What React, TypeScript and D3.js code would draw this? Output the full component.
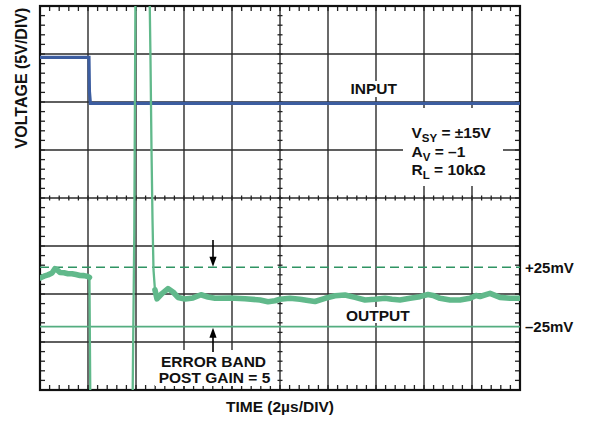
import React from 'react';
import * as d3 from 'd3';

// ---- data ----
const timeDomain = [0, 20]; // µs, 2µs/div
const voltDomain = [-30, 10]; // V, 5V/div (input channel)
const outDomain = [-25, 25]; // mV (error band)

const inputTime = [0, 2.04, 2.06, 2.1, 20];
const inputVolts = [4.64, 4.64, 1.1, -0.14, -0.14];

const outputTime = [
  0, 0.167, 0.333, 0.5, 0.625, 0.708, 0.833, 1.0, 1.167, 1.333, 1.5, 1.667, 1.833, 2.0, 2.06,
  2.1, 3.854, 3.883, 3.929, 3.979, 4.563, 4.604, 4.646, 4.688, 4.729, 4.79, 4.875,
  5.083, 5.333, 5.542, 5.75, 6.042, 6.375, 6.708, 7.0, 7.292, 7.917, 8.542, 9.167, 9.5,
  9.792, 10.0, 10.417, 10.833, 11.167, 11.458, 11.875, 12.292, 12.708, 13.125, 13.542,
  13.958, 14.375, 14.667, 15.0, 15.417, 15.833, 16.167, 16.375, 16.667, 17.083, 17.5,
  17.917, 18.167, 18.333, 18.75, 19.167, 19.583, 20.0,
];
const outputMv = [
  16.0, 17.5, 18.6, 20.2, 23.8, 23.0, 20.6, 20.4, 19.6, 19.6, 18.9, 18.1, 18.0, 17.2, 16.5,
  -95, -95, -36, 54, 260, 260, 200, 124, 65, 23, 6, -1.5,
  2.9, 7.0, 4.2, -0.4, -1.7, -0.8, 1.9, 0, -1.1, -0.8, -1.5, -2.5, -4.0,
  -3.1, -1.9, -1.1, -1.9, -2.9, -3.8, -1.1, 1.1, 1.7, -0.3, -2.5,
  -1.9, -1.1, -1.9, -2.5, -1.1, 0.3, 2.1, 1.3, -1.1, -2.5, -2.5,
  -1.1, 1.3, 0.4, 3.1, -0.3, -1.1, -1.1,
];

const bandLimits = [25, -25];
const bandLabels = ['+25mV', '\u201325mV'];

// ---- layout ----
const W = 592, H = 424;
const L = 40, R = 520, T = 6, B = 390;
const FONT = '"Liberation Sans", Arial, Helvetica, sans-serif';
const TRACE = '#61b98b';

export default function App() {
  const x = d3.scaleLinear().domain(timeDomain).range([L, R]);
  const yIn = d3.scaleLinear().domain(voltDomain).range([B, T]);
  const yOut = d3.scaleLinear().domain(outDomain).range([326.7, 267.3]);

  const majorX = d3.range(timeDomain[0], timeDomain[1] + 0.001, 2);
  const majorY = d3.range(voltDomain[0], voltDomain[1] + 0.001, 5);
  const minorX = d3.range(timeDomain[0], timeDomain[1] + 0.001, 0.4);
  const minorY = d3.range(voltDomain[0], voltDomain[1] + 0.001, 1);
  const cx = x(10);
  const cy = yIn(-10);

  const inLine = d3.line<number>().x((_, i) => x(inputTime[i])).y((v) => yIn(v));
  const outPts: [number, number][] = outputTime.map((t, i) => [x(t), yOut(outputMv[i])]);
  const outLine = d3.line<[number, number]>();
  const pre = outPts.filter((_, i) => outputTime[i] <= 2.06);
  const settled = outPts.filter((_, i) => outputTime[i] >= 4.79);

  const arrowHead = (tx: number, ty: number, dir: number) =>
    `M${tx},${ty} L${tx - 3.6},${ty - dir * 10} L${tx + 3.6},${ty - dir * 10} Z`;
  const ax = 213;

  return (
    <svg width={W} height={H} style={{ position: 'absolute', left: 0, top: 0, background: '#fff' }}
      fontFamily={FONT} fontWeight="bold">
      <defs>
        <clipPath id="plot"><rect x={L} y={T} width={R - L} height={B - T} /></clipPath>
      </defs>
      <rect width={W} height={H} fill="#fff" />
      {/* grid */}
      {majorX.map((t) => (
        <line key={'gx' + t} x1={x(t)} x2={x(t)} y1={T} y2={B} stroke="#2a2a2a" strokeWidth={1.4} />
      ))}
      {majorY.map((v) => (
        <line key={'gy' + v} x1={L} x2={R} y1={yIn(v)} y2={yIn(v)} stroke="#2a2a2a" strokeWidth={1.4} />
      ))}
      {/* minor ticks */}
      {minorX.map((t) => (
        <g key={'mx' + t} stroke="#222" strokeWidth={1.3}>
          <line x1={x(t)} x2={x(t)} y1={T} y2={T + 5} />
          <line x1={x(t)} x2={x(t)} y1={B} y2={B - 5} />
          <line x1={x(t)} x2={x(t)} y1={cy - 2.5} y2={cy + 2.5} />
        </g>
      ))}
      {minorY.map((v) => (
        <g key={'my' + v} stroke="#222" strokeWidth={1.3}>
          <line y1={yIn(v)} y2={yIn(v)} x1={L} x2={L + 5} />
          <line y1={yIn(v)} y2={yIn(v)} x1={R} x2={R - 5} />
          <line y1={yIn(v)} y2={yIn(v)} x1={cx - 2.5} x2={cx + 2.5} />
        </g>
      ))}
      {/* white label boxes */}
      <rect x={403} y={108} width={100} height={78} fill="#fff" />
      <rect x={155} y={350} width={119} height={36} fill="#fff" />
      <rect x={348} y={81} width={52} height={16} fill="#fff" />
      <rect x={344} y={307} width={66} height={16} fill="#fff" />
      {/* border */}
      <rect x={L} y={T} width={R - L} height={B - T} fill="none" stroke="#111" strokeWidth={2.2} />
      {/* error band lines */}
      <line x1={L} x2={R} y1={yOut(bandLimits[0])} y2={yOut(bandLimits[0])}
        stroke="#2f9463" strokeWidth={1.6} strokeDasharray="9,5" />
      <line x1={L} x2={R} y1={yOut(bandLimits[1])} y2={yOut(bandLimits[1])}
        stroke="#54ad80" strokeWidth={1.8} />
      {/* traces */}
      <g clipPath="url(#plot)">
        <path d={inLine(inputVolts) || ''} fill="none" stroke="#3c5da0" strokeWidth={3.2}
          strokeLinejoin="miter" />
        <path d={outLine(outPts) || ''} fill="none" stroke={TRACE} strokeWidth={2.3} />
        <path d={outLine(pre) || ''} fill="none" stroke={TRACE} strokeWidth={5.6} strokeLinejoin="round" strokeLinecap="round" />
        <path d={outLine(settled) || ''} fill="none" stroke={TRACE} strokeWidth={5.6} strokeLinejoin="round" strokeLinecap="round" />
      </g>
      {/* arrows */}
      <line x1={ax} x2={ax} y1={240} y2={yOut(25) - 8} stroke="#000" strokeWidth={1.6} />
      <path d={arrowHead(ax, yOut(25) - 0.5, 1)} fill="#000" />
      <line x1={ax} x2={ax} y1={352} y2={yOut(-25) + 8} stroke="#000" strokeWidth={1.6} />
      <path d={arrowHead(ax, yOut(-25) + 1, -1)} fill="#000" />
      {/* labels */}
      <text x={350.5} y={94} fontSize={15.5} fill="#111">INPUT</text>
      <text x={346} y={321} fontSize={15.5} fill="#111">OUTPUT</text>
      <text x={213.5} y={366.5} fontSize={15.5} textAnchor="middle" fill="#111">ERROR BAND</text>
      <text x={214.5} y={382.5} fontSize={15.5} textAnchor="middle" fill="#111">POST GAIN = 5</text>
      <text x={411.5} y={138} fontSize={15.5} fill="#111">
        V<tspan fontSize={11.5} dy={4}>SY</tspan><tspan dy={-4}> = ±15V</tspan>
      </text>
      <text x={411.5} y={156.5} fontSize={15.5} fill="#111">
        A<tspan fontSize={11.5} dy={4}>V</tspan><tspan dy={-4}> = –1</tspan>
      </text>
      <text x={411.5} y={175} fontSize={15.5} fill="#111">
        R<tspan fontSize={11.5} dy={4}>L</tspan><tspan dy={-4}> = 10kΩ</tspan>
      </text>
      {bandLimits.map((v, i) => (
        <text key={'bl' + i} x={525} y={yOut(v) + 5.2} fontSize={15} fill="#111">{bandLabels[i]}</text>
      ))}
      <text x={x(10)} y={412} fontSize={15.5} textAnchor="middle" fill="#111">TIME (2µs/DIV)</text>
      <text transform={`translate(26.5, 78) rotate(-90)`} fontSize={16} textAnchor="middle" fill="#111">
        VOLTAGE (5V/DIV)
      </text>
    </svg>
  );
}
